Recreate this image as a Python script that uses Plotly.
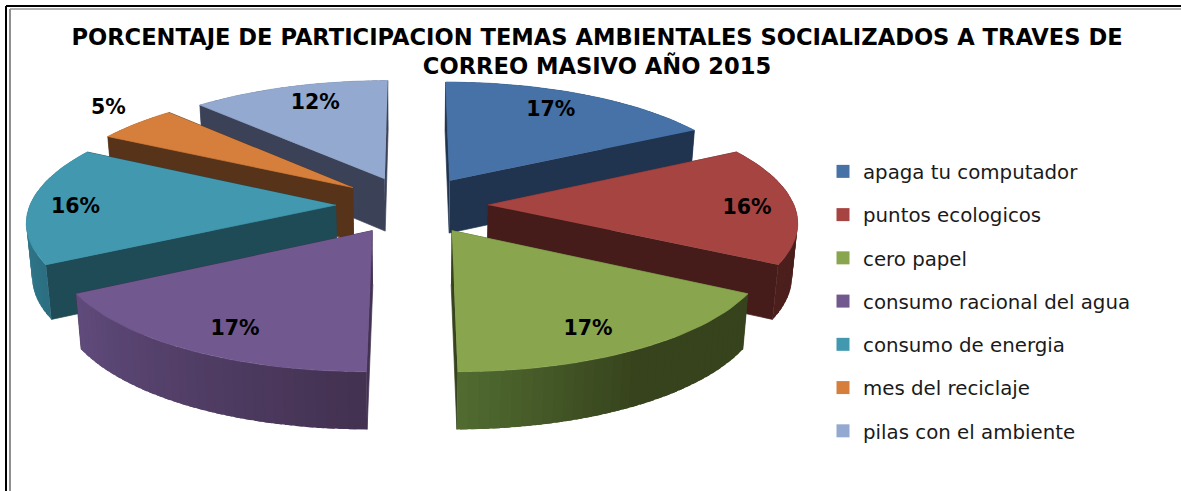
import math
import plotly.graph_objects as go

temas = ["apaga tu computador", "puntos ecologicos", "cero papel", "consumo racional del agua",
         "consumo de energia", "mes del reciclaje", "pilas con el ambiente"]
porcentajes = [17, 16, 17, 17, 16, 5, 12]
colores_tapa = ["#4672A8", "#A64442", "#89A54E", "#71588F", "#4198AF", "#D67F3C", "#93A9CF"]
colores_corte = ["#20344F", "#451C1A", "#36431C", "#443252", "#1F4B57", "#57331A", "#3B4257"]
borde_inicio = ["#20344F", "#451C1A", "#36431C", "#443252", "#2C6F82", "#8A5228", "#5A6B8A"]
borde_fin = ["#2C466B", "#4C1F1D", "#506A30", "#604B7C", "#3A8AA0", "#8A5228", "#5A6B8A"]

TITLE = "PORCENTAJE DE PARTICIPACION TEMAS AMBIENTALES SOCIALIZADOS A TRAVES DE<br>CORREO MASIVO AÑO 2015"

# projection of the exploded tilted pie
CX, CY, R, EXPL, D, K, H = 412.0, 205.0, 306.0, 76.0, 2460.0, 0.381, 53.0
LABEL_FRAC = [0.76, 0.84, 0.76, 0.76, 0.845, 1.15, 0.77]
LABEL_DX = [-3, 2, 0, -1, -2, 2, 6]
LABEL_DY = [-3, 4, 11, 11, 3, -6, -2]


def project(x, y, z=0.0):
    f = 1.0 / (1.0 + y / D)
    return (CX + x * f * (1 - 0.015 * z), CY - y * K * f + z * H * (1 + (f - 1) * 0.5))


def hex2rgb(c):
    return [int(c[i:i + 2], 16) for i in (1, 3, 5)]


def mix(a, b, t):
    ra, rb = hex2rgb(a), hex2rgb(b)
    return "rgb(%d,%d,%d)" % tuple(round(p + (q - p) * t) for p, q in zip(ra, rb))


fig = go.Figure()


def poly(pts, color, lw=0.7):
    fig.add_trace(go.Scatter(x=[p[0] for p in pts], y=[p[1] for p in pts], mode="lines", fill="toself",
                             fillcolor=color, line=dict(color=color, width=lw), hoverinfo="skip",
                             showlegend=False))


total = sum(porcentajes)
slices = []
acc = 0.0
for i, v in enumerate(porcentajes):
    a0 = acc / total * 2 * math.pi
    acc += v
    a1 = acc / total * 2 * math.pi
    mid = (a0 + a1) / 2
    ax, ay = EXPL * math.sin(mid), EXPL * math.cos(mid)
    slices.append((i, a0, a1, mid, ax, ay))


def world(s, a, r=R):
    return (s[4] + r * math.sin(a), s[5] + r * math.cos(a))


for s in sorted(slices, key=lambda t: -t[5]):
    i, a0, a1, mid, ax, ay = s
    n = max(4, int((a1 - a0) / 0.03))
    step = (a1 - a0) / n
    angs = [a0 + step * j for j in range(n + 1)]
    rim = [world(s, a) for a in angs]
    walls = []
    for p in (world(s, a0), world(s, a1)):
        walls.append(((ay + p[1]) / 2, [project(ax, ay), project(*p), project(*p, 1), project(ax, ay, 1)],
                      colores_corte[i], 0.7))
    for j in range(n):
        p = rim[j]
        q = world(s, min(angs[j] + 1.7 * step, a1))
        t = j / max(n - 1, 1)
        if i == 2:
            t = max(0.0, (t - 0.5) / 0.5)
        walls.append(((p[1] + q[1]) / 2, [project(*p), project(*q), project(*q, 1), project(*p, 1)],
                      mix(borde_inicio[i], borde_fin[i], t), 0))
    for _, pts, col, lw in sorted(walls, key=lambda w: -w[0]):
        poly(pts, col, lw)
    poly([project(ax, ay)] + [project(*p) for p in rim], colores_tapa[i])

lab_x, lab_y, lab_t = [], [], []
for s in slices:
    x, y = project(*world(s, s[3], R * LABEL_FRAC[s[0]]))
    lab_x.append(x + LABEL_DX[s[0]])
    lab_y.append(y + LABEL_DY[s[0]])
    lab_t.append(f"{porcentajes[s[0]]}%")
fig.add_trace(go.Scatter(x=lab_x, y=lab_y, text=lab_t, mode="text", textposition="middle center",
                         textfont=dict(family="DejaVu Sans", size=20.5, color="#000000", weight="bold"),
                         hoverinfo="skip", showlegend=False))

for i, name in enumerate(temas):
    fig.add_trace(go.Scatter(x=[None], y=[None], mode="markers", name=name, legendgroup=str(i),
                             marker=dict(symbol="square", size=13, color=colores_tapa[i]), hoverinfo="skip"))

frame = [(6, 6, 1181, 6, "#000000", 2), (6, 6, 6, 491, "#000000", 2),
         (10, 9, 1181, 9, "#B0B0B0", 2), (10, 9, 10, 491, "#909090", 2)]
shapes = [dict(type="line", xref="x", yref="y", x0=a, y0=b, x1=c, y1=d, line=dict(color=col, width=w), layer="below")
          for a, b, c, d, col, w in frame]

fig.update_layout(
    width=1181, height=491, margin=dict(l=0, r=0, t=0, b=0), paper_bgcolor="#FFFFFF", plot_bgcolor="#FFFFFF",
    xaxis=dict(range=[0, 1181], visible=False, fixedrange=True),
    yaxis=dict(range=[491, 0], visible=False, fixedrange=True),
    title=dict(text=TITLE, x=597 / 1181, xanchor="center", y=1 - 45 / 491, yanchor="middle", yref="container",
               font=dict(family="DejaVu Sans", size=22.6, color="#000000", weight="bold")),
    legend=dict(x=823 / 1181, y=1 - 152 / 491, xanchor="left", yanchor="top", tracegroupgap=14.5,
                font=dict(family="DejaVu Sans", size=19.8, color="#1a1a1a"), bgcolor="rgba(0,0,0,0)",
                itemwidth=30),
    shapes=shapes,
)
fig.write_html("out.html", post_script="document.body.style.margin='0';", config=dict(displayModeBar=False))
